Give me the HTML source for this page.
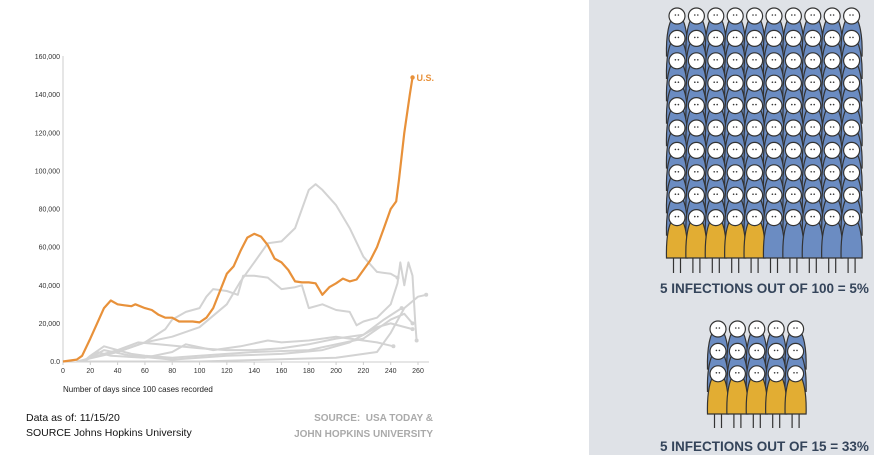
<!DOCTYPE html>
<html><head><meta charset="utf-8"><style>
body{margin:0;width:874px;height:455px;overflow:hidden;background:#fff;font-family:"Liberation Sans",sans-serif;position:relative}
.t{position:absolute;white-space:nowrap}
</style></head><body>
<svg id="chart" width="590" height="455" style="position:absolute;left:0;top:0"></svg>
<div class="t" style="left:63px;top:385px;font-size:8px;color:#222">Number of days since 100 cases recorded</div>
<div class="t" style="left:26px;top:411px;font-size:10.5px;color:#111;line-height:15px">Data as of: 11/15/20<br>SOURCE Johns Hopkins University</div>
<div class="t" style="left:250px;top:411px;width:183px;text-align:right;font-size:10px;font-weight:bold;color:#aaa;line-height:16px">SOURCE:&nbsp; USA TODAY &amp;<br>JOHN HOPKINS UNIVERSITY</div>
<div style="position:absolute;left:589px;top:0;width:285px;height:455px;background:#dfe2e7"></div>
<svg id="people" width="874" height="455" style="position:absolute;left:0;top:0"></svg>
<div class="t" style="left:660px;top:281px;font-size:13.5px;font-weight:bold;color:#34445a">5 INFECTIONS OUT OF 100 = 5%</div>
<div class="t" style="left:660px;top:439px;font-size:13.5px;font-weight:bold;color:#34445a">5 INFECTIONS OUT OF 15 = 33%</div>
<script>
const yTicks=[0,20000,40000,60000,80000,100000,120000,140000,160000];
const yTickLabels=["0.0","20,000","40,000","60,000","80,000","100,000","120,000","140,000","160,000"];
const xTicks=[0,20,40,60,80,100,120,140,160,180,200,220,240,260];
const usDays=[0,10,14,20,25,30,35,40,45,50,53,60,65,70,75,80,85,90,95,100,105,110,115,120,125,130,135,140,145,150,155,160,165,170,175,180,185,190,195,200,205,210,215,220,225,230,235,240,244,246,250,254,256];
const usCases=[0,1000,3000,12000,20000,28000,32000,30000,29500,29000,30000,28000,27000,24500,23000,23000,21000,21000,21000,20500,23000,28000,37000,46000,50000,58000,65000,67000,65500,61000,54000,52000,48000,42000,41500,41500,41000,35000,39000,41000,43500,42000,43000,48000,53000,60000,70000,80000,84000,95000,120000,140000,149000];
const g1Days=[10,40,60,80,100,120,130,140,150,160,170,180,185,190,200,210,220,230,240,245];
const g1Cases=[0,5000,10000,13000,18000,30000,42000,52000,62000,63000,70000,90000,93000,90000,82000,70000,55000,47000,46000,44000];
const g2Days=[20,40,60,75,80,90,100,105,110,120,128,132,140,150,160,170,175,180,190,200,210,215,220,230,240,245,247,250,253,256,258,259];
const g2Cases=[2000,5000,10000,17000,22000,26000,28000,34000,38000,37000,35000,45000,45000,44000,38000,39000,40000,28000,30000,27000,26000,19000,21000,23000,30000,41000,52000,40000,52000,45000,20000,11000];
const g3Days=[15,20,30,40,50,60,80,100,140,180,200,220,240,250,256];
const g3Cases=[0,3000,8000,6000,4000,3000,2000,3000,5000,6000,9000,12000,22000,25000,20000];
const g4Days=[12,20,40,55,70,100,120,140,160,180,200,220,235,248];
const g4Cases=[0,2000,6000,10000,9000,7000,6000,6000,7000,9000,12000,14000,22000,28000];
const g5Days=[15,25,35,60,80,90,110,130,150,160,180,200,220,230,242];
const g5Cases=[0,5000,3000,2000,5000,9000,6000,8000,11000,10000,11000,13000,11000,10000,8000];
const g6Days=[10,100,150,200,230,240,250,260,266];
const g6Cases=[0,0,1000,2000,5000,15000,28000,34000,35000];
const g7Days=[15,30,50,80,120,160,190,210,230,240,256];
const g7Cases=[0,6000,3000,1000,3000,4000,6000,10000,18000,20000,17000];
const NS="http://www.w3.org/2000/svg";
const svg=document.getElementById('chart');
const X=d=>63+d*(355/260), Y=v=>361.5-v*(305/160000);
function mk(t,a,p){const e=document.createElementNS(NS,t);for(const k in a)e.setAttribute(k,a[k]);(p||svg).appendChild(e);return e;}
const ax=mk('line',{x1:63,y1:56,x2:63,y2:362,stroke:'#ccc','stroke-width':1});


const bx=mk('line',{x1:63,y1:362,x2:429,y2:362,stroke:'#ccc','stroke-width':1});


yTicks.forEach((v,i)=>{const t=mk('text',{x:60,y:Y(v)+2.5,'text-anchor':'end','font-size':7,fill:'#333'});t.textContent=yTickLabels[i];

});
xTicks.forEach(d=>{mk('line',{x1:X(d),y1:362,x2:X(d),y2:365,stroke:'#ccc'});const t=mk('text',{x:X(d),y:373,'text-anchor':'middle','font-size':7,fill:'#333'});t.textContent=d;

});
function line(ds,cs,col,w,name){const p=mk('path',{d:ds.map((d,i)=>(i?'L':'M')+X(d).toFixed(1)+','+Y(cs[i]).toFixed(1)).join(''),fill:'none',stroke:col,'stroke-width':w,'stroke-linejoin':'round'});

return p;}
[[g1Days,g1Cases],[g2Days,g2Cases],[g3Days,g3Cases],[g4Days,g4Cases],[g5Days,g5Cases],[g6Days,g6Cases],[g7Days,g7Cases]].forEach((s,i)=>{line(s[0],s[1],'#d3d3d3',2,'country-line-'+(i+1));
const n=s[0].length-1;const c=mk('circle',{cx:X(s[0][n]),cy:Y(s[1][n]),r:2,fill:'#d3d3d3'});

});
line(usDays,usCases,'#e8913a',2.2,'us-line');
const n=usDays.length-1;
const ud=mk('circle',{cx:X(usDays[n]),cy:Y(usCases[n]),r:2.2,fill:'#e8913a'});


const ul=mk('text',{x:X(usDays[n])+4,y:Y(usCases[n])+3.5,'font-size':9,fill:'#e8913a','font-weight':'bold'});ul.textContent='U.S.';



const ps=document.getElementById('people');
function person(cx,cy,bottom,col){const g=mk('g',{},ps);


mk('path',{d:`M${cx-10.5},${bottom} C${cx-11},${cy+22} ${cx-9},${cy+2} ${cx},${cy-3} C${cx+9},${cy+2} ${cx+11},${cy+22} ${cx+10.5},${bottom} Z`,fill:col,stroke:'#333','stroke-width':1.2},g);
mk('circle',{cx:cx,cy:cy,r:8,fill:'#fff',stroke:'#333','stroke-width':1.2},g);
mk('circle',{cx:cx-1.6,cy:cy-1,r:0.8,fill:'#333'},g);mk('circle',{cx:cx+1.4,cy:cy-1,r:0.8,fill:'#333'},g);}
function group(x0,y0,cols,rows,bot,legEnd){for(let r=0;r<rows;r++)for(let c=0;c<cols;c++){const cx=x0+c*19.4,cy=y0+r*22.4;
const last=r==rows-1;person(cx,cy,last?bot:cy+40,last&&c<5?'#e2ad33':'#6b8cc2');}
for(let c=0;c<cols;c++){const cx=x0+c*19.4;[-3.5,3.5].forEach(o=>mk('line',{x1:cx+o,y1:bot,x2:cx+o,y2:legEnd,stroke:'#333','stroke-width':1.2},ps));}}
group(677,16,10,10,258,273);
group(718,329,5,3,414,428);
</script>
</body></html>
